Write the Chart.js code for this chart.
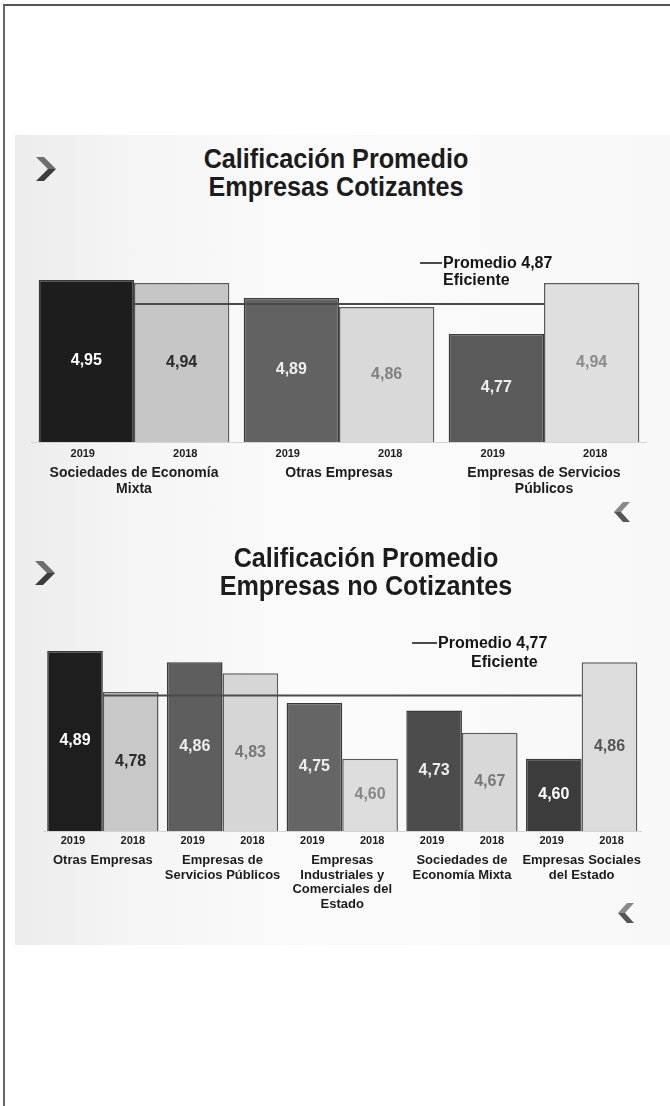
<!DOCTYPE html>
<html lang="es">
<head>
<meta charset="utf-8">
<title>Calificación Promedio</title>
<script src="https://cdn.jsdelivr.net/npm/chart.js@4.4.1/dist/chart.umd.min.js"></script>
<style>
  html, body { margin: 0; padding: 0; background: #fff; }
  body { width: 670px; height: 1106px; position: relative; overflow: hidden;
         font-family: "Liberation Sans", Arial, sans-serif; }
  .frame { position: absolute; left: 3px; top: 4px; right: -4px; bottom: -4px;
           border-top: 2px solid #555; border-left: 2px solid #666; }
  .slide { position: absolute; left: 15px; width: 655px;
           background: linear-gradient(90deg, #ececec 0%, #f5f5f5 18%, #fbfbfb 45%, #f8f8f8 100%); }
  .title { position: absolute; width: 400px; text-align: center; font-weight: bold;
           font-size: 28px; line-height: 28px; color: #1c1c1c; transform: scaleX(0.9); z-index: 2; }
  .box { position: absolute; left: 0; width: 670px; z-index: 1; }
  .legend { position: absolute; font-weight: bold; font-size: 16px; line-height: 17px;
            color: #151515; z-index: 2; white-space: nowrap; }
  .swatch { position: absolute; height: 2px; background: #4a4a4a; z-index: 2; }
  .icon { position: absolute; z-index: 2; }
</style>
</head>
<body>
<div class="frame"></div>
<div class="slide" style="top:135px;height:392px;"></div>
<div class="slide" style="top:527px;height:418px;"></div>

<svg class="icon" style="left:36px;top:157px" width="20" height="24" viewBox="0 0 20 24">
  <polygon points="0,0 8,0 20,12 12,12" fill="#6e6e6e"/>
  <polygon points="12,12 20,12 8,24 0,24" fill="#3c3c3c"/>
</svg>
<svg class="icon" style="left:35px;top:561px" width="20" height="24" viewBox="0 0 20 24">
  <polygon points="0,0 8,0 20,12 12,12" fill="#6e6e6e"/>
  <polygon points="12,12 20,12 8,24 0,24" fill="#3c3c3c"/>
</svg>
<svg class="icon" style="left:614px;top:502px" width="16" height="20" viewBox="0 0 16 20">
  <polygon points="16,0 9,0 0,10 7,10" fill="#8a8a8a"/>
  <polygon points="7,10 0,10 9,20 16,20" fill="#555"/>
</svg>
<svg class="icon" style="left:618px;top:903px" width="16" height="20" viewBox="0 0 16 20">
  <polygon points="16,0 9,0 0,10 7,10" fill="#8a8a8a"/>
  <polygon points="7,10 0,10 9,20 16,20" fill="#555"/>
</svg>

<div class="title" style="left:136px;top:145px;">Calificación Promedio<br>Empresas Cotizantes</div>
<div class="title" style="left:166px;top:544px;">Calificación Promedio<br>Empresas no Cotizantes</div>

<div class="swatch" style="left:420px;top:262px;width:22px;"></div>
<div class="legend" style="left:443px;top:254px;">Promedio 4,87</div>
<div class="legend" style="left:443px;top:271px;">Eficiente</div>

<div class="swatch" style="left:412px;top:642px;width:25px;"></div>
<div class="legend" style="left:438px;top:634px;">Promedio 4,77</div>
<div class="legend" style="left:471px;top:653px;">Eficiente</div>

<div class="box" style="top:255px;height:280px;"><canvas id="topChart"></canvas></div>
<div class="box" style="top:600px;height:330px;"><canvas id="bottomChart"></canvas></div>

<script>
// Empresas cotizantes
const topGroups = [
  ['Sociedades de Economía', 'Mixta'],
  ['Otras Empresas'],
  ['Empresas de Servicios', 'Públicos']
];
const topYears = ['2019', '2018'];
const top2019 = [4.95, 4.89, 4.77];
const top2018 = [4.94, 4.86, 4.94];
const topAverage = 4.87;

// Empresas no cotizantes
const bottomGroups = [
  ['Otras Empresas'],
  ['Empresas de', 'Servicios Públicos'],
  ['Empresas', 'Industriales y', 'Comerciales del', 'Estado'],
  ['Sociedades de', 'Economía Mixta'],
  ['Empresas Sociales', 'del Estado']
];
const bottomYears = ['2019', '2018'];
const bottom2019 = [4.89, 4.86, 4.75, 4.73, 4.60];
const bottom2018 = [4.78, 4.83, 4.60, 4.67, 4.86];
const bottomAverage = 4.77;

Chart.defaults.font.family = '"Liberation Sans", Arial, sans-serif';
Chart.defaults.color = '#1c1c1c';

// value inside each bar, centered on the visible part, comma decimals
const barValueLabels = {
  id: 'barValueLabels',
  afterDatasetsDraw(chart) {
    const ctx = chart.ctx;
    const bottom = chart.chartArea.bottom;
    ctx.save();
    ctx.font = 'bold 16px "Liberation Sans", Arial, sans-serif';
    ctx.textAlign = 'center';
    ctx.textBaseline = 'middle';
    chart.getSortedVisibleDatasetMetas().forEach(meta => {
      if (meta.type !== 'bar') return;
      const ds = chart.data.datasets[meta.index];
      const colors = chart.options.valueColors[meta.index] || [];
      meta.data.forEach((bar, j) => {
        const base = Math.min(bar.base, bottom);
        ctx.fillStyle = colors[j] || '#fff';
        ctx.fillText(Number(ds.data[j]).toFixed(2).replace('.', ','), bar.x, (bar.y + base) / 2);
      });
    });
    ctx.restore();
  }
};

function makeChart(id, opts) {
  const yearTicks = opts.groups.flatMap(() => opts.years);
  return new Chart(document.getElementById(id), {
    type: 'bar',
    data: {
      labels: opts.groups,
      datasets: [
        {
          type: 'line',
          label: 'Promedio',
          xAxisID: 'x',
          data: opts.groups.map(() => opts.average),
          borderColor: '#4a4a4a',
          borderWidth: 2,
          pointRadius: 0,
          order: 0
        },
        {
          type: 'bar',
          label: opts.years[0],
          xAxisID: 'x',
          data: opts.v2019,
          backgroundColor: opts.colors2019,
          borderColor: '#3a3a3a',
          borderWidth: 1.5,
          categoryPercentage: 0.93,
          barPercentage: 1,
          order: 1
        },
        {
          type: 'bar',
          label: opts.years[1],
          xAxisID: 'x',
          data: opts.v2018,
          backgroundColor: opts.colors2018,
          borderColor: '#5a5a5a',
          borderWidth: 1.5,
          categoryPercentage: 0.93,
          barPercentage: 1,
          order: 1
        }
      ]
    },
    options: {
      responsive: true,
      maintainAspectRatio: false,
      animation: false,
      valueColors: [[], opts.text2019, opts.text2018],
      layout: { padding: opts.padding },
      plugins: {
        legend: { display: false },
        tooltip: { enabled: false }
      },
      scales: {
        x: {
          type: 'category',
          position: 'bottom',
          weight: 1,
          offset: true,
          grid: { display: false, drawTicks: false },
          border: { display: false },
          ticks: { font: { size: opts.groupFont, weight: 'bold', lineHeight: opts.groupLine },
                   color: '#1c1c1c', padding: opts.groupPad, maxRotation: 0, autoSkip: false },
          afterFit: s => { s.height = opts.groupHeight; }
        },
        x2: {
          type: 'category',
          labels: yearTicks,
          position: 'bottom',
          weight: 0,
          offset: true,
          grid: { display: false, drawTicks: false },
          border: { display: true, color: '#d4d4d4', width: 1 },
          ticks: { font: { size: 11, weight: 'bold' }, color: '#1c1c1c',
                   padding: opts.yearPad, maxRotation: 0, autoSkip: false },
          afterFit: s => { s.height = 18; }
        },
        y: { display: false, min: opts.yMin, max: opts.yMax }
      }
    },
    plugins: [barValueLabels]
  });
}

makeChart('topChart', {
  groups: topGroups, years: topYears, v2019: top2019, v2018: top2018, average: topAverage,
  colors2019: ['#1d1d1d', '#626262', '#5a5a5a'],
  colors2018: ['#c6c6c6', '#d9d9d9', '#dfdfdf'],
  text2019: ['#ffffff', '#eeeeee', '#eeeeee'],
  text2018: ['#2a2a2a', '#808080', '#8a8a8a'],
  yMin: 4.41, yMax: 5.0,
  padding: { left: 31.5, right: 23.5, top: 10, bottom: 25 },
  yearPad: 5, groupFont: 14, groupLine: 1.143, groupPad: 5, groupHeight: 50
});

makeChart('bottomChart', {
  groups: bottomGroups, years: bottomYears, v2019: bottom2019, v2018: bottom2018, average: bottomAverage,
  colors2019: ['#1e1e1e', '#5e5e5e', '#656565', '#4c4c4c', '#3c3c3c'],
  colors2018: ['#c8c8c8', '#d6d6d6', '#dddddd', '#d8d8d8', '#dcdcdc'],
  text2019: ['#ffffff', '#eeeeee', '#eeeeee', '#eeeeee', '#ffffff'],
  text2018: ['#2a2a2a', '#777777', '#888888', '#777777', '#555555'],
  yMin: 4.405, yMax: 5.0,
  padding: { left: 43, right: 28.5, top: 10.3, bottom: 11 },
  yearPad: 3, groupFont: 13, groupLine: 1.12, groupPad: 4.5, groupHeight: 70
});
</script>
</body>
</html>
